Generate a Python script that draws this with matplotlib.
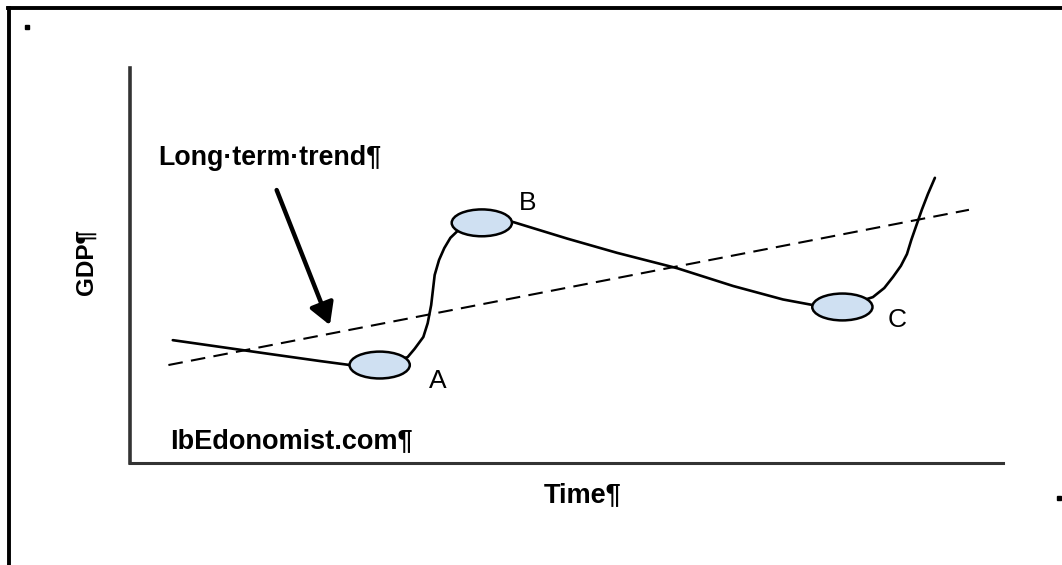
import matplotlib
matplotlib.use("Agg")
import matplotlib.pyplot as plt
from matplotlib.patches import Ellipse
from matplotlib.lines import Line2D

plt.rcParams['font.family'] = ['Liberation Sans', 'DejaVu Sans']

# 数据（横轴：时间 0-10，纵轴：GDP 0-10）
gdp_t = [0.49, 1.03, 1.60, 2.18, 2.52, 2.86,
         3.18, 3.26, 3.36, 3.41, 3.45, 3.47, 3.49, 3.54, 3.60, 3.67, 3.75, 4.03,
         4.39, 5.01, 5.58, 6.27, 6.91, 7.48, 7.82, 8.16,
         8.51, 8.64, 8.74, 8.83, 8.90, 8.95, 9.01, 9.07, 9.14, 9.22]
gdp_v = [3.11, 2.94, 2.76, 2.58, 2.48, 2.48,
         2.68, 2.89, 3.19, 3.54, 4.00, 4.38, 4.76, 5.14, 5.44, 5.70, 5.87, 6.08,
         6.10, 5.68, 5.32, 4.93, 4.48, 4.14, 4.00, 3.95,
         4.20, 4.43, 4.71, 4.99, 5.29, 5.65, 6.03, 6.41, 6.81, 7.22]

trend_t = [0.44, 9.61]
trend_v = [2.48, 6.41]

point_names = ['A', 'B', 'C']
point_t = [2.86, 4.03, 8.16]
point_v = [2.48, 6.08, 3.95]
label_t = [3.53, 4.55, 8.79]
label_v = [2.08, 6.58, 3.62]

fig = plt.figure(figsize=(10.62, 5.65), dpi=100)
ax = fig.add_axes([130 / 1062, 102 / 565, 873 / 1062, 395 / 565])
ax.set_xlim(0, 10)
ax.set_ylim(0, 10)

# 坐标轴样式
for s in ['top', 'right']:
    ax.spines[s].set_visible(False)
ax.spines['left'].set_linewidth(2.6)
ax.spines['bottom'].set_linewidth(2.2)
ax.spines['left'].set_color('#333333')
ax.spines['bottom'].set_color('#333333')
ax.set_xticks([])
ax.set_yticks([])

# 长期趋势（虚线）
ax.plot(trend_t, trend_v, color='black', lw=1.5, dashes=(7, 4))

# GDP曲线
ax.plot(gdp_t, gdp_v, color='black', lw=1.9, solid_joinstyle='round', solid_capstyle='round')

# A、B、C 点
for name, t, v, lt, lv in zip(point_names, point_t, point_v, label_t, label_v):
    ax.add_patch(Ellipse((t, v), 0.69, 0.68, facecolor='#cfe0f2', edgecolor='black', lw=1.8, zorder=3))
    ax.text(lt, lv, name, fontsize=19, ha='center', va='center')

# 箭头
ax.annotate('', xy=(2.29, 3.49), xytext=(1.68, 6.91),
            arrowprops=dict(arrowstyle='-|>,head_length=1.3,head_width=0.75',
                            color='black', lw=3.2, shrinkA=0, shrinkB=0))

ax.text(0.32, 7.54, 'Long·term·trend¶', fontsize=19.3, fontweight='bold', ha='left', va='baseline')
ax.text(0.46, 0.38, 'IbEdonomist.com¶', fontsize=19.5, fontweight='bold', ha='left', va='baseline')

fig.text(583 / 1062, (565 - 502) / 565, 'Time¶', fontsize=19.5, fontweight='bold', ha='center', va='baseline')
fig.text(86 / 1062, (565 - 262) / 565, 'GDP¶', fontsize=17.5, fontweight='bold', rotation=90,
         ha='center', va='center')

# 外框（上、左）和小点
fig.add_artist(Line2D([8 / 1062, 1], [1 - 8 / 565, 1 - 8 / 565], color='black', lw=2.8))
fig.add_artist(Line2D([9 / 1062, 9 / 1062], [0, 1 - 8 / 565], color='black', lw=2.8))
fig.add_artist(Line2D([27 / 1062], [1 - 27 / 565], marker='s', markersize=2.5, color='black', lw=0))
fig.add_artist(Line2D([1059 / 1062], [1 - 498 / 565], marker='s', markersize=2.5, color='black', lw=0))

plt.savefig('out.png', dpi=100)
